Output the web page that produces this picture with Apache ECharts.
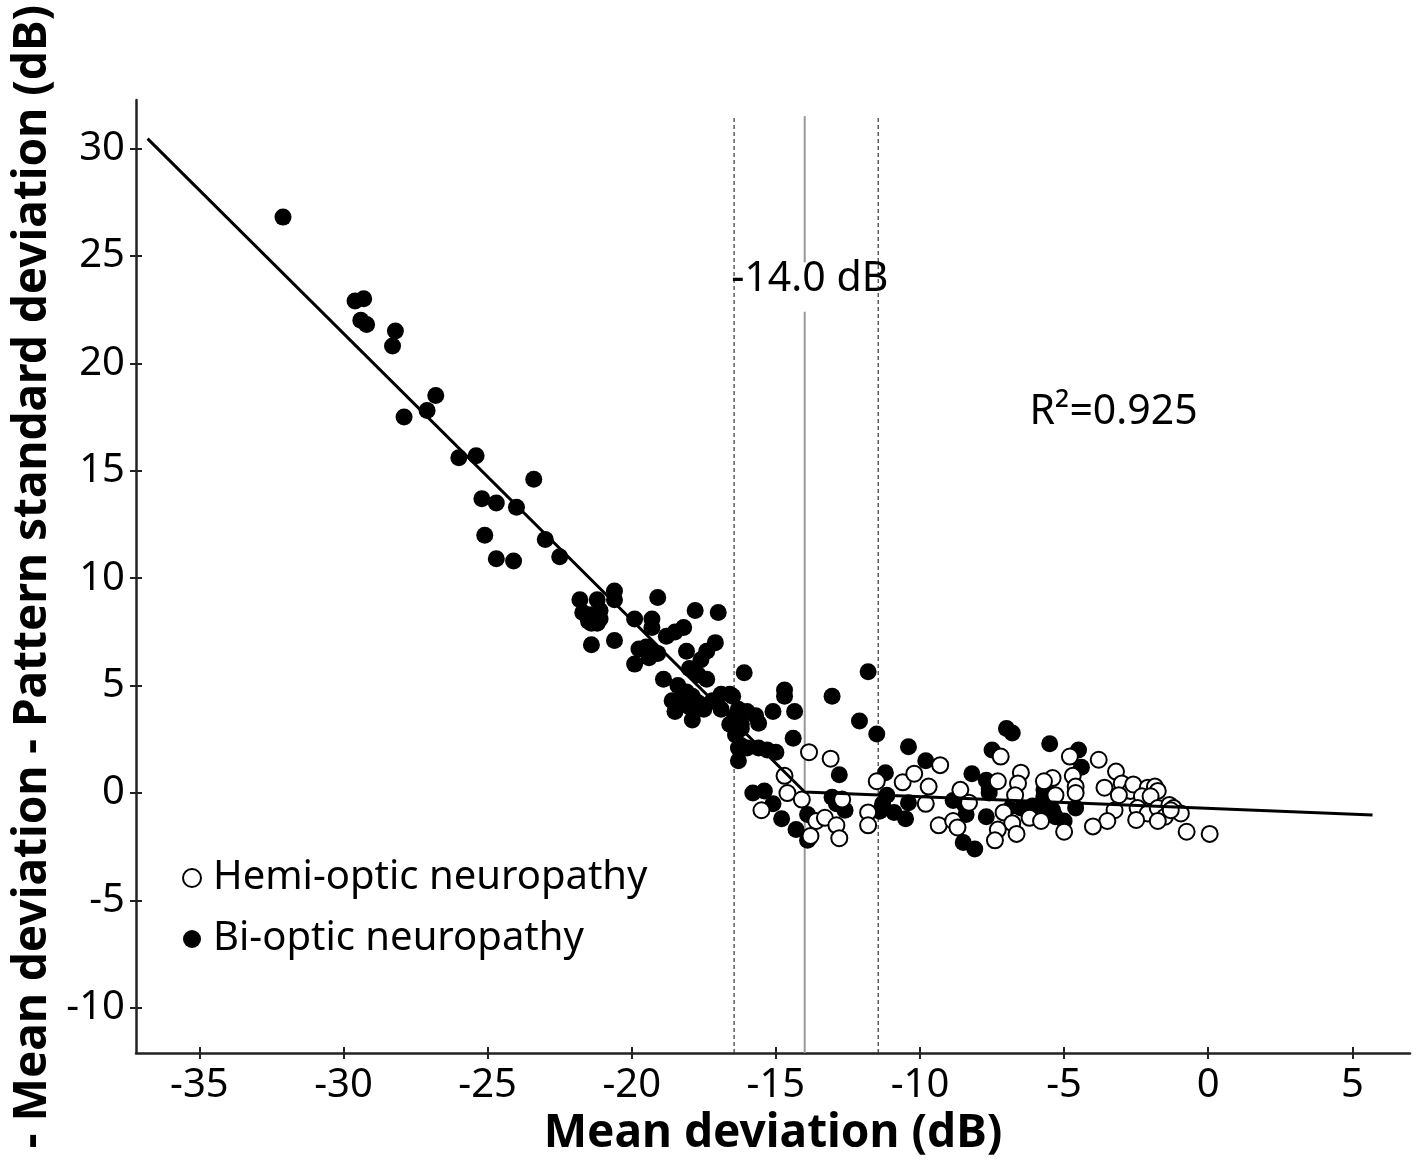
<!DOCTYPE html>
<html><head><meta charset="utf-8">
<script src="https://cdn.jsdelivr.net/npm/echarts@6/dist/echarts.min.js"></script>
<style>html,body{margin:0;padding:0;background:#fff}#c{width:1416px;height:1162px}</style>
</head><body><div id="c"></div>
<script>
const xTicks = [-35,-30,-25,-20,-15,-10,-5,0,5];
const yTicks = [-10,-5,0,5,10,15,20,25,30];
const xRange = [-37.2, 7];
const yRange = [-12.1, 32.25];

const biOptic = [
[-32.1,26.8],[-29.6,22.9],[-29.3,23.0],[-29.4,22.0],[-29.2,21.8],[-28.2,21.5],[-28.3,20.8],
[-27.9,17.5],[-27.1,17.8],[-26.8,18.5],[-26.0,15.6],[-25.4,15.7],[-23.4,14.6],
[-25.2,13.7],[-24.7,13.5],[-24.0,13.3],[-25.1,12.0],[-24.7,10.9],[-24.1,10.8],[-23.0,11.8],[-22.5,11.0],
[-21.8,9.0],[-21.2,9.0],[-21.1,8.5],[-21.4,8.3],[-21.7,8.4],[-21.5,8.0],[-21.4,7.9],[-21.1,8.1],[-21.2,7.9],
[-20.6,9.4],[-20.6,9.0],[-21.4,6.9],[-20.6,7.1],
[-19.9,8.1],[-19.1,9.1],[-19.3,8.1],[-19.3,7.7],[-18.8,7.3],[-18.5,7.5],[-18.2,7.7],
[-17.8,8.5],[-17.0,8.4],[-17.1,7.0],[-17.4,6.6],[-17.6,6.2],[-18.1,6.6],
[-19.75,6.7],[-19.5,6.8],[-19.3,6.6],[-19.1,6.5],[-19.9,6.0],[-19.4,6.3],
[-18.9,5.3],[-18.0,5.8],[-17.7,5.5],[-17.4,5.3],
[-18.4,5.0],[-18.1,4.7],[-18.4,4.3],[-17.9,4.5],[-17.7,4.2],[-18.5,3.8],[-18.0,4.0],[-17.9,3.4],[-17.6,4.1],
[-17.2,4.3],[-16.9,4.6],[-16.9,3.9],[-16.6,4.6],[-16.4,3.6],[-16.6,3.2],[-16.2,3.2],[-18.6,4.3],[-17.5,3.9],[-16.5,4.5],
[-16.1,5.6],[-14.7,4.8],[-14.7,4.5],[-15.1,3.8],[-14.35,3.8],[-14.4,2.55],
[-16.3,3.9],[-16.0,3.8],[-15.7,3.6],[-15.6,3.25],[-16.2,3.0],[-16.4,2.7],
[-16.3,2.1],[-16.2,2.2],[-16.3,1.5],[-16.0,2.1],[-15.6,2.1],[-15.3,2.0],[-15.0,1.9],
[-15.8,0.0],[-15.4,0.1],[-15.1,-0.5],[-14.8,-1.2],[-14.3,-1.7],[-13.9,-2.2],
[-13.9,-1.0],[-13.05,-0.2],[-12.9,-0.5],[-12.6,-0.8],
[-13.05,4.5],[-11.8,5.65],[-12.1,3.35],[-11.5,2.75],[-12.8,0.85],
[-11.2,0.95],[-11.3,-0.5],[-11.4,-0.85],[-11.15,-0.1],
[-10.4,2.15],[-9.8,1.5],[-8.2,0.9],
[-10.9,-0.9],[-10.5,-1.2],[-10.4,-0.45],
[-8.85,-0.35],[-8.45,-0.55],[-8.4,-1.0],
[-8.5,-2.3],[-8.1,-2.6],
[-7.0,3.0],[-6.8,2.8],[-7.5,2.0],[-5.5,2.3],
[-7.7,0.6],[-7.6,0.2],[-7.6,0.0],[-7.7,-1.1],
[-6.8,-0.6],[-6.5,-0.7],[-6.1,-0.6],[-5.8,-0.5],[-5.7,0.15],[-5.4,-0.8],[-6.1,-1.0],[-5.8,-1.0],
[-4.5,2.0],[-4.4,1.2],
[-5.7,-0.15],[-5.55,-0.9],[-5.3,-1.1],[-5.0,-1.3],[-4.6,-0.7]
];

const hemiOptic = [
[-14.7,0.8],[-14.6,0.0],[-14.1,-0.3],[-15.5,-0.8],[-13.6,-1.3],[-13.8,-2.0],[-13.3,-1.15],[-12.9,-1.5],[-12.8,-2.1],[-12.7,-0.3],
[-13.85,1.9],[-13.1,1.6],
[-11.8,-0.9],[-11.8,-1.5],[-11.5,0.55],
[-10.6,0.5],[-10.2,0.9],[-9.7,0.3],[-9.8,-0.5],[-9.3,1.3],
[-9.35,-1.5],[-8.85,-1.3],[-8.7,-1.6],[-8.6,0.15],[-8.3,-0.45],
[-7.3,0.55],[-7.2,1.7],
[-6.5,0.95],[-6.6,0.45],[-6.7,-0.1],
[-5.4,0.7],[-5.7,0.55],
[-7.1,-0.9],[-6.8,-1.4],[-7.3,-1.7],[-7.4,-2.2],[-6.65,-1.9],
[-6.2,-1.15],[-5.8,-1.3],
[-4.8,1.7],[-3.8,1.55],[-3.2,1.0],
[-4.7,0.8],[-4.6,0.3],[-4.6,0.0],[-5.3,-0.1],
[-3.6,0.25],[-3.0,0.45],[-2.7,0.1],[-2.6,0.4],[-2.1,0.25],[-1.85,0.3],[-1.75,0.1],[-2.3,-0.15],[-2.0,-0.15],[-3.1,-0.1],
[-3.25,-0.8],[-2.45,-0.7],[-2.1,-0.95],[-1.75,-0.7],[-1.35,-0.55],[-1.2,-0.7],[-1.5,-1.1],[-0.95,-0.95],[-1.3,-0.8],
[-3.5,-1.3],[-4.0,-1.55],[-2.5,-1.25],[-1.75,-1.3],
[-5.0,-1.8],[-0.75,-1.8],[0.05,-1.9]
];

const fitX = [-36.8, -14.0, 5.7];
const fitY = [30.45, 0.05, -1.02];
const breakpoint = -14.0;
const ciBounds = [-16.45, -11.45];
const refLineTop = 31.5;
const breakLabelGap = [22.4, 24.7];
const breakLabel = { text: '-14.0 dB', x: -16.55, y: 23.9 };
const r2Label = { text: 'R²=0.925', x: -6.2, y: 17.7 };

const FONT = 'Noto Sans';
const chart = echarts.init(document.getElementById('c'), null, {renderer: 'canvas'});

function axisCommon(ticks, range) {
  return {
    type: 'value', min: range[0], max: range[1],
    axisLine: { show: true, onZero: false, lineStyle: { color: '#222', width: 2.5 } },
    axisTick: { show: true, customValues: ticks, length: 6, lineStyle: { color: '#222', width: 2 } },
    axisLabel: { customValues: ticks, fontSize: 40, color: '#000', fontFamily: FONT },
    splitLine: { show: false }
  };
}
function innerTicks(ticks, range, pos) {
  return {
    type: 'value', min: range[0], max: range[1], position: pos, offset: 0,
    axisLine: { show: false, onZero: false },
    axisTick: { show: true, inside: true, customValues: ticks, length: 6, lineStyle: { color: '#222', width: 2 } },
    axisLabel: { show: false }, splitLine: { show: false }
  };
}

const xMain = axisCommon(xTicks, xRange);
Object.assign(xMain, {
  position: 'bottom',
  name: 'Mean deviation (dB)', nameLocation: 'middle', nameGap: 56,
  nameTextStyle: { fontSize: 46, fontWeight: 'bold', color: '#000', fontFamily: FONT }
});
xMain.axisLabel.margin = 13;
const yMain = axisCommon(yTicks, yRange);
Object.assign(yMain, {
  position: 'left',
  name: '- Mean deviation - Pattern standard deviation (dB)', nameLocation: 'middle', nameGap: 80,
  nameRotate: 90,
  nameTextStyle: { fontSize: 46, fontWeight: 'bold', color: '#000', fontFamily: FONT }
});
yMain.axisLabel.margin = 11;

const vseg = (x, y0, y1) => [[x, y0], [x, y1]];

chart.setOption({
  animation: false,
  backgroundColor: '#fff',
  grid: { left: 136, right: 6, top: 100, bottom: 106, containLabel: false },
  xAxis: [xMain, innerTicks(xTicks, xRange, 'bottom')],
  yAxis: [yMain, innerTicks(yTicks, yRange, 'left')],
  legend: {
    orient: 'vertical', left: 177, top: 850,
    itemWidth: 18, itemHeight: 18, itemGap: 15,
    textStyle: { fontSize: 40, color: '#000', fontFamily: FONT, lineHeight: 46, padding: [0, 0, 0, 7] },
    data: [
      { name: 'Hemi-optic neuropathy', icon: 'circle' },
      { name: 'Bi-optic neuropathy', icon: 'circle' }
    ]
  },
  series: [
    { type: 'line', data: vseg(ciBounds[0], yRange[0], refLineTop), symbol: 'none', silent: true,
      lineStyle: { color: '#333', width: 1.2, type: [4, 3] }, z: 1 },
    { type: 'line', data: vseg(ciBounds[1], yRange[0], refLineTop), symbol: 'none', silent: true,
      lineStyle: { color: '#333', width: 1.2, type: [4, 3] }, z: 1 },
    { type: 'line', data: vseg(breakpoint, yRange[0], breakLabelGap[0]), symbol: 'none', silent: true,
      lineStyle: { color: '#999', width: 2 }, z: 1 },
    { type: 'line', data: vseg(breakpoint, breakLabelGap[1], refLineTop), symbol: 'none', silent: true,
      lineStyle: { color: '#999', width: 2 }, z: 1 },
    { name: 'Bi-optic neuropathy', type: 'scatter', data: biOptic, symbol: 'circle', symbolSize: 17,
      itemStyle: { color: '#000', opacity: 1 }, z: 3 },
    { name: 'Hemi-optic neuropathy', type: 'scatter', data: hemiOptic, symbol: 'circle', symbolSize: 16,
      itemStyle: { color: '#fff', borderColor: '#000', borderWidth: 2, opacity: 1 }, z: 4 },
    { type: 'line', data: fitX.map((x, i) => [x, fitY[i]]), symbol: 'none', silent: true,
      lineStyle: { color: '#000', width: 3 }, z: 5 },
    { type: 'scatter', silent: true, symbolSize: 0, z: 6, itemStyle: { opacity: 1 },
      data: [[breakLabel.x, breakLabel.y], [r2Label.x, r2Label.y]],
      label: { show: true, position: 'right', distance: 0, fontSize: 41, color: '#000', fontFamily: FONT,
        formatter: p => p.dataIndex === 0 ? breakLabel.text : r2Label.text } }
  ]
});
</script></body></html>
